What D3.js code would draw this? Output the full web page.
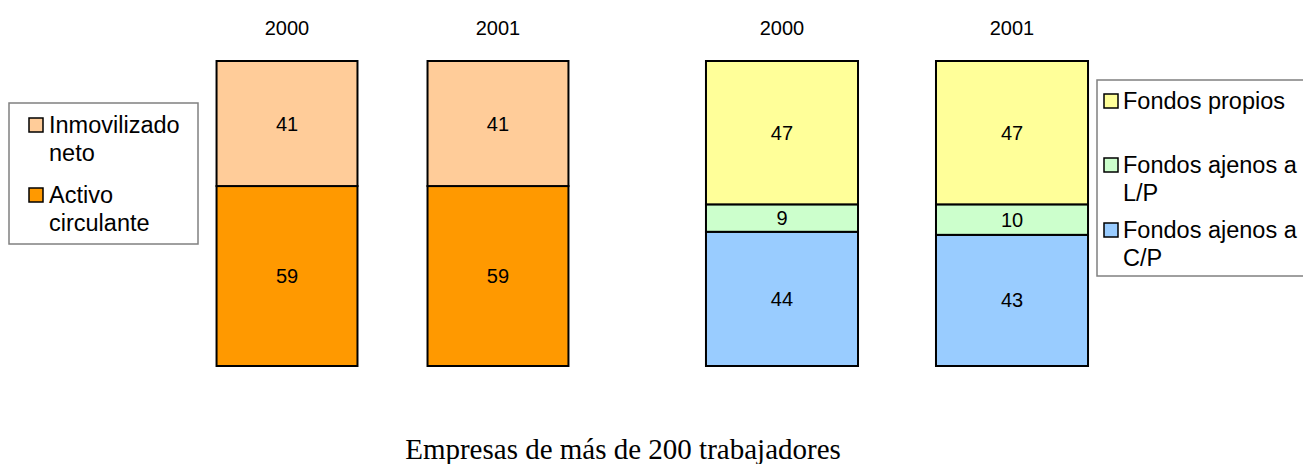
<!DOCTYPE html>
<html>
<head>
	<meta charset="utf-8">
	<title>Empresas de más de 200 trabajadores</title>
	<script src="https://cdn.jsdelivr.net/npm/d3@7/dist/d3.min.js"></script>
	<style>
		body { margin: 0; background: #fff; }
		svg text { font-family: "Liberation Sans", Arial, sans-serif; fill: #000; }
		.title { font-family: "Liberation Serif", "Times New Roman", serif; }
	</style>
</head>
<body>
<div id="chart"></div>
<script>

// years on both panels
const years = ["2000", "2001"];

// activo (left panel), bottom to top
const activoSeries = ["Activo circulante", "Inmovilizado neto"];
const activoValues = {
	"Activo circulante": [59, 59],
	"Inmovilizado neto": [41, 41]
};

// pasivo (right panel), bottom to top
const pasivoSeries = ["Fondos ajenos a C/P", "Fondos ajenos a L/P", "Fondos propios"];
const pasivoValues = {
	"Fondos ajenos a C/P": [44, 43],
	"Fondos ajenos a L/P": [9, 10],
	"Fondos propios": [47, 47]
};

const colors = {
	"Inmovilizado neto": "#FFCC99",
	"Activo circulante": "#FF9900",
	"Fondos propios": "#FFFF99",
	"Fondos ajenos a L/P": "#CCFFCC",
	"Fondos ajenos a C/P": "#99CCFF"
};

const title = "Empresas de más de 200 trabajadores";

const W = 1303, H = 464;

const svg = d3.select("#chart").append("svg")
	.attr("width", W)
	.attr("height", H);

const y = d3.scaleLinear().domain([0, 100]).range([366, 61]);

function drawPanel(series, values, range, pad) {
	const x = d3.scaleBand().domain(years).range(range).padding(pad);

	const rows = years.map(function (yr, i) {
		const r = { year: yr };
		series.forEach(function (s) { r[s] = values[s][i]; });
		return r;
	});

	const stacked = d3.stack().keys(series)(rows);

	const g = svg.append("g");

	const layer = g.selectAll("g.layer")
		.data(stacked)
		.enter().append("g")
		.attr("class", "layer")
		.attr("fill", function (d) { return colors[d.key]; });

	layer.selectAll("rect")
		.data(function (d) { return d; })
		.enter().append("rect")
		.attr("x", function (d) { return x(d.data.year); })
		.attr("y", function (d) { return y(d[1]); })
		.attr("width", x.bandwidth())
		.attr("height", function (d) { return y(d[0]) - y(d[1]); })
		.attr("stroke", "#000")
		.attr("stroke-width", 2);

	layer.selectAll("text")
		.data(function (d) { return d; })
		.enter().append("text")
		.attr("x", function (d) { return x(d.data.year) + x.bandwidth() / 2; })
		.attr("y", function (d) { return (y(d[0]) + y(d[1])) / 2; })
		.attr("text-anchor", "middle")
		.attr("dominant-baseline", "central")
		.style("font-size", "20px")
		.text(function (d) { return d[1] - d[0]; });

	// year labels on top
	g.selectAll("text.year")
		.data(years)
		.enter().append("text")
		.attr("class", "year")
		.attr("x", function (d) { return x(d) + x.bandwidth() / 2; })
		.attr("y", 28)
		.attr("text-anchor", "middle")
		.attr("dominant-baseline", "central")
		.style("font-size", "20px")
		.text(function (d) { return d; });
}

drawPanel(activoSeries, activoValues, [146.5, 638.5], 0.332);
drawPanel(pasivoSeries, pasivoValues, [628, 1166], 0.339);

// legends: top series first, each entry can wrap to two lines
function drawLegend(box, entries) {
	const g = svg.append("g");
	g.append("rect")
		.attr("x", box.x).attr("y", box.y)
		.attr("width", box.w).attr("height", box.h)
		.attr("fill", "#fff")
		.attr("stroke", "#808080")
		.attr("stroke-width", 1.5);

	entries.forEach(function (e) {
		g.append("rect")
			.attr("x", box.x + box.mx)
			.attr("y", e.y - 7)
			.attr("width", 14).attr("height", 14)
			.attr("fill", colors[e.key])
			.attr("stroke", "#000")
			.attr("stroke-width", 1.5);
		e.lines.forEach(function (ln, i) {
			g.append("text")
				.attr("x", box.x + box.tx)
				.attr("y", e.y + i * 28)
				.attr("dominant-baseline", "central")
				.style("font-size", "23.5px")
				.text(ln);
		});
	});
}

drawLegend({ x: 9, y: 103, w: 189, h: 141, mx: 20, tx: 40 }, [
	{ key: "Inmovilizado neto", lines: ["Inmovilizado", "neto"], y: 125 },
	{ key: "Activo circulante", lines: ["Activo", "circulante"], y: 195 }
]);

drawLegend({ x: 1097, y: 80, w: 230, h: 196, mx: 7, tx: 26 }, [
	{ key: "Fondos propios", lines: ["Fondos propios"], y: 101 },
	{ key: "Fondos ajenos a L/P", lines: ["Fondos ajenos a", "L/P"], y: 165 },
	{ key: "Fondos ajenos a C/P", lines: ["Fondos ajenos a", "C/P"], y: 230 }
]);

svg.append("text")
	.attr("class", "title")
	.attr("x", 623)
	.attr("y", 449)
	.attr("text-anchor", "middle")
	.attr("dominant-baseline", "central")
	.style("font-size", "29px")
	.text(title);

</script>
</body>
</html>
